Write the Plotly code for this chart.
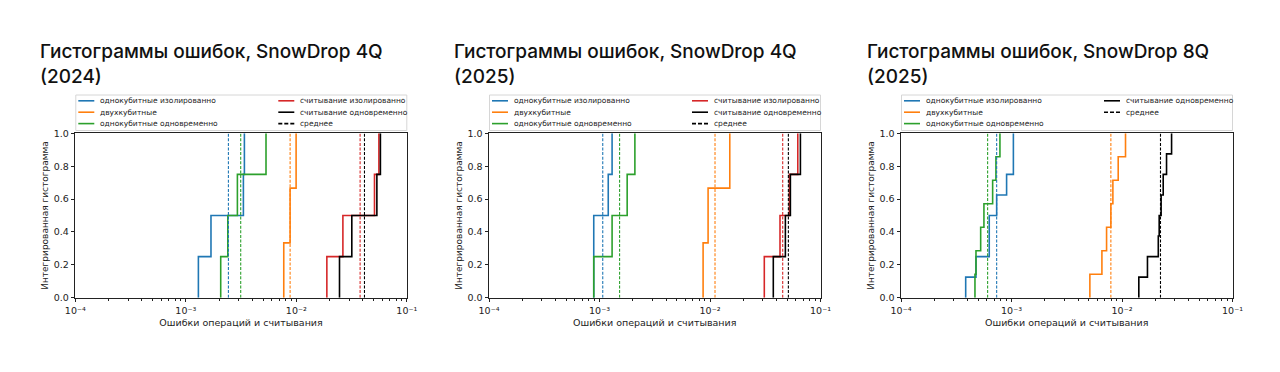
import numpy as np
import plotly.graph_objects as go

# ---------------- data ----------------
panel_titles = [
    "Гистограммы ошибок, SnowDrop 4Q<br>(2024)",
    "Гистограммы ошибок, SnowDrop 4Q<br>(2025)",
    "Гистограммы ошибок, SnowDrop 8Q<br>(2025)",
]
series_names = ["однокубитные изолированно", "двухкубитные", "однокубитные одновременно",
                "считывание изолированно", "считывание одновременно"]
mean_name = "среднее"
x_title = "Ошибки операций и считывания"
y_title = "Интегрированная гистограмма"

# panel 1: SnowDrop 4Q (2024)
sq_iso_1 = [1.30e-3, 1.69e-3, 3.32e-3, 3.39e-3]
tq_1 = [7.70e-3, 8.79e-3, 9.96e-3]
sq_sim_1 = [2.07e-3, 2.40e-3, 2.93e-3, 5.32e-3]
ro_iso_1 = [1.89e-2, 2.64e-2, 5.10e-2, 5.59e-2]
ro_sim_1 = [2.46e-2, 3.18e-2, 5.36e-2, 5.77e-2]
means_1 = [2.43e-3, 8.79e-3, 3.14e-3, 3.78e-2, 4.14e-2]

# panel 2: SnowDrop 4Q (2025)
sq_iso_2 = [8.87e-4, 8.87e-4, 1.20e-3, 1.30e-3]
tq_2 = [8.66e-3, 9.61e-3, 1.51e-2]
sq_sim_2 = [8.87e-4, 1.30e-3, 1.78e-3, 2.09e-3]
ro_iso_2 = [3.10e-2, 4.30e-2, 5.23e-2, 6.23e-2]
ro_sim_2 = [3.74e-2, 4.81e-2, 5.34e-2, 6.58e-2]
means_2 = [1.07e-3, 1.11e-2, 1.52e-3, 4.55e-2, 5.12e-2]

# panel 3: SnowDrop 8Q (2025) -- no isolated readout
sq_iso_3 = [3.85e-4, 4.77e-4, 6.29e-4, 6.29e-4, 7.34e-4, 9.03e-4, 1.04e-3, 1.04e-3]
tq_3 = [5.12e-3, 6.58e-3, 7.25e-3, 7.93e-3, 8.27e-3, 9.24e-3, 1.076e-2]
sq_sim_3 = [4.67e-4, 4.77e-4, 5.26e-4, 5.63e-4, 6.75e-4, 7.23e-4, 7.86e-4]
ro_iso_3 = None
ro_sim_3 = [1.42e-2, 1.70e-2, 2.13e-2, 2.17e-2, 2.26e-2, 2.36e-2, 2.53e-2, 2.81e-2]
means_3 = [7.34e-4, 7.93e-3, 6.08e-4, None, 2.23e-2]

x_tick_vals = [1e-4, 1e-3, 1e-2, 1e-1]
x_tick_text = ["10⁻⁴", "10⁻³", "10⁻²", "10⁻¹"]
y_tick_vals = [0.0, 0.2, 0.4, 0.6, 0.8, 1.0]

panels = [
    ([sq_iso_1, tq_1, sq_sim_1, ro_iso_1, ro_sim_1], means_1),
    ([sq_iso_2, tq_2, sq_sim_2, ro_iso_2, ro_sim_2], means_2),
    ([sq_iso_3, tq_3, sq_sim_3, ro_iso_3, ro_sim_3], means_3),
]

# ---------------- style / layout ----------------
colors = ["#1f77b4", "#ff7f0e", "#2ca02c", "#d62728", "#000000"]
W, H = 1280, 372
AX_LEFT_PX = [75.3, 489.0, 901.0]
AX_W_PX = 331.5
AX_TOP_PX, AX_BOTTOM_PX = 133.3, 297.7
TITLE_LEFT_PX = [37.5, 451.5, 865.0]
TITLE_TOP_PX = 38.0
LEG_TOP_PX, LEG_BOTTOM_PX = 95.0, 130.5
LEG_ROWS_PX = [100.8, 112.2, 123.6]
LEG_COL_OFF_PX = 200.0
BASE_FONT = "DejaVu Sans"


def px_x(p):
    return p / W


def px_y(p):
    return 1 - p / H


fig = go.Figure()
shapes = []
annotations = []

for i, (series, means) in enumerate(panels):
    xa = "x" if i == 0 else f"x{i+1}"
    ya = "y" if i == 0 else f"y{i+1}"
    # step cumulative histograms
    for k, vals in enumerate(series):
        if vals is None:
            continue
        v = np.sort(np.array(vals))
        n = len(v)
        xs = np.concatenate([[v[0]], v])
        ys = np.concatenate([[0.0], np.arange(1, n + 1) / n])
        fig.add_trace(go.Scatter(x=xs, y=ys, mode="lines", line=dict(color=colors[k], width=1.6, shape="hv"),
                                 xaxis=xa, yaxis=ya, showlegend=False, hoverinfo="skip"))
    # mean lines
    for k, m in enumerate(means):
        if m is None:
            continue
        fig.add_trace(go.Scatter(x=[m, m], y=[0, 1], mode="lines",
                                 line=dict(color=colors[k], width=1.1, dash="3px,1.6px"),
                                 xaxis=xa, yaxis=ya, showlegend=False, hoverinfo="skip"))

    x0 = px_x(AX_LEFT_PX[i])
    x1 = px_x(AX_LEFT_PX[i] + AX_W_PX)
    axis_common = dict(showline=True, linecolor="#222", linewidth=1, mirror=True, showgrid=False,
                       zeroline=False, ticks="outside", ticklen=3.5, tickwidth=0.8, tickcolor="#222",
                       automargin=False,
                       tickfont=dict(family=BASE_FONT, size=9.5, color="#222"))
    fig.layout[("xaxis" if i == 0 else f"xaxis{i+1}")] = dict(
        axis_common, type="log", domain=[x0, x1], range=[-4, -1], anchor=ya,
        tickvals=x_tick_vals, ticktext=x_tick_text,
        minor=dict(ticks="outside", ticklen=2, tickwidth=0.6, tickcolor="#222", dtick="D1", showgrid=False),
        title=dict(text=x_title, font=dict(family=BASE_FONT, size=9.5, color="#222"), standoff=4))
    fig.layout[("yaxis" if i == 0 else f"yaxis{i+1}")] = dict(
        axis_common, domain=[px_y(AX_BOTTOM_PX), px_y(AX_TOP_PX)], range=[0, 1], anchor=xa,
        tickvals=y_tick_vals, tickformat=".1f",
        title=dict(text=y_title, font=dict(family=BASE_FONT, size=9, color="#222"), standoff=3))

    # panel title
    annotations.append(dict(text=panel_titles[i], xref="paper", yref="paper",
                            x=px_x(TITLE_LEFT_PX[i]), y=px_y(TITLE_TOP_PX), xanchor="left", yanchor="top",
                            align="left", showarrow=False,
                            font=dict(family="Inter", size=19, color="#111", weight=500)))

    # legend frame
    shapes.append(dict(type="rect", xref="paper", yref="paper",
                       x0=px_x(AX_LEFT_PX[i] + 0.5), x1=px_x(AX_LEFT_PX[i] + AX_W_PX),
                       y0=px_y(LEG_BOTTOM_PX), y1=px_y(LEG_TOP_PX),
                       line=dict(color="#d6d6d6", width=1), fillcolor="rgba(255,255,255,0.8)", layer="above"))
    # legend entries: column 1 = single-qubit/two-qubit, column 2 = readout + mean
    col1 = [(series_names[k], colors[k], "solid") for k in range(3) if series[k] is not None]
    col2 = [(series_names[k], colors[k], "solid") for k in range(3, 5) if series[k] is not None]
    col2.append((mean_name, "#000000", "4px,2px"))
    for c, entries in enumerate([col1, col2]):
        for r, (label, col, dash) in enumerate(entries):
            gx = AX_LEFT_PX[i] + 3 + c * LEG_COL_OFF_PX
            gy = LEG_ROWS_PX[r]
            shapes.append(dict(type="line", xref="paper", yref="paper",
                               x0=px_x(gx), x1=px_x(gx + 16), y0=px_y(gy), y1=px_y(gy),
                               line=dict(color=col, width=1.6, dash=dash), layer="above"))
            annotations.append(dict(text=label, xref="paper", yref="paper", x=px_x(gx + 20), y=px_y(gy),
                                    xanchor="left", yanchor="middle", showarrow=False,
                                    font=dict(family=BASE_FONT, size=7.5, color="#222")))

fig.update_layout(width=W, height=H, margin=dict(l=0, r=0, t=0, b=0),
                  paper_bgcolor="white", plot_bgcolor="white", showlegend=False,
                  shapes=shapes, annotations=annotations)

fig.write_html("out.html")
